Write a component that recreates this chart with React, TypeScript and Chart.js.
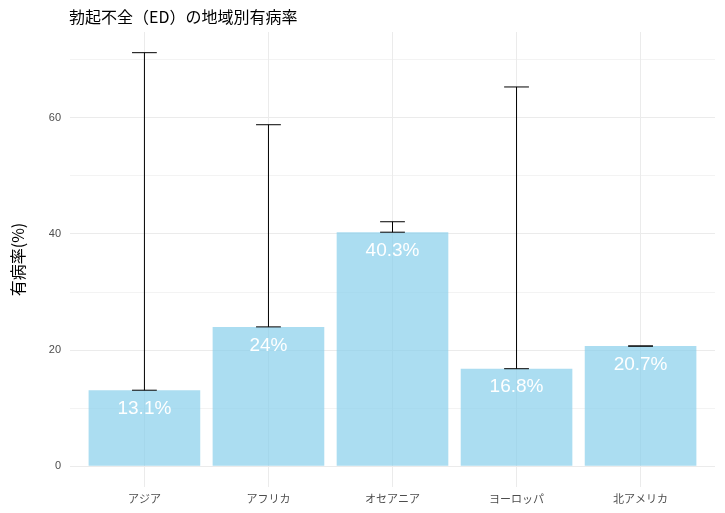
import React, { useEffect, useRef } from "react";
import { Chart, registerables } from "chart.js";

Chart.register(...registerables);

const titleText = "勃起不全（ED）の地域別有病率";
const yTitle = "有病率(%)";
const categories = ["アジア", "アフリカ", "オセアニア", "ヨーロッパ", "北アメリカ"];
const prevalence = [13.1, 24, 40.3, 16.8, 20.7];
const errLower = [13.1, 24, 40.3, 16.8, 20.7];
const errUpper = [71.2, 58.8, 42.1, 65.3, 20.7];
const yTicks = [0, 10, 20, 30, 40, 50, 60, 70];

const JP = "'Noto Sans CJK JP', 'Noto Sans', sans-serif";
const NUM = "'Liberation Sans', Arial, sans-serif";

export default function App() {
  const ref = useRef<HTMLCanvasElement | null>(null);

  useEffect(() => {
    if (!ref.current) return;
    const yMaxData = Math.max(...errUpper);
    const yMin = -0.05 * yMaxData;
    const yMax = yMaxData * 1.05;

    const titlePlugin = {
      id: "titlePlugin",
      afterDraw(chart: any) {
        const ctx = chart.ctx;
        ctx.save();
        ctx.fillStyle = "#000000";
        ctx.font = `16px ${JP}`;
        ctx.textAlign = "left";
        ctx.textBaseline = "middle";
        ctx.fillText(titleText, 69, 17);
        ctx.restore();
      },
    };

    const errorBarPlugin = {
      id: "errorBars",
      afterDatasetsDraw(chart: any) {
        const ctx = chart.ctx;
        const xs = chart.scales.x;
        const ys = chart.scales.y;
        const half = Math.abs(xs.getPixelForValue(0.1) - xs.getPixelForValue(0));
        ctx.save();
        ctx.strokeStyle = "#000000";
        ctx.lineWidth = 1;
        errLower.forEach((lo, i) => {
          const cx = xs.getPixelForValue(i);
          const yl = ys.getPixelForValue(lo);
          const yu = ys.getPixelForValue(errUpper[i]);
          ctx.beginPath();
          ctx.moveTo(cx, yl);
          ctx.lineTo(cx, yu);
          ctx.moveTo(cx - half, yu);
          ctx.lineTo(cx + half, yu);
          ctx.moveTo(cx - half, yl);
          ctx.lineTo(cx + half, yl);
          ctx.stroke();
        });
        ctx.restore();
      },
    };

    const labelPlugin = {
      id: "barLabels",
      afterDatasetsDraw(chart: any) {
        const ctx = chart.ctx;
        const meta = chart.getDatasetMeta(0);
        ctx.save();
        ctx.fillStyle = "#FFFFFF";
        ctx.font = `19px ${NUM}`;
        ctx.textAlign = "center";
        ctx.textBaseline = "middle";
        meta.data.forEach((bar: any, i: number) => {
          ctx.fillText(`${prevalence[i]}%`, bar.x, bar.y + 18.5);
        });
        ctx.restore();
      },
    };

    const chart = new Chart(ref.current, {
      type: "bar",
      data: {
        datasets: [
          {
            data: prevalence.map((v, i) => ({ x: i, y: v })),
            backgroundColor: "rgba(135,206,235,0.7)",
            borderWidth: 0,
            barPercentage: 0.9,
            categoryPercentage: 1,
          },
        ],
      },
      options: {
        animation: false,
        responsive: false,
        layout: { padding: { top: 32, right: 10, left: 0, bottom: 0 } },
        plugins: {
          legend: { display: false },
          tooltip: { enabled: false },
          title: { display: false },
        },
        scales: {
          x: {
            type: "linear",
            offset: false,
            min: -0.6,
            max: categories.length - 1 + 0.6,
            afterBuildTicks(scale: any) {
              scale.ticks = categories.map((_, i) => ({ value: i }));
            },
            afterFit(scale: any) {
              scale.height = 26;
            },
            ticks: {
              callback: (v: any) => categories[Math.round(Number(v))] ?? "",
              color: "#4D4D4D",
              font: { size: 11, family: JP },
              padding: 5,
              maxRotation: 0,
              autoSkip: false,
            },
            grid: { color: "#EBEBEB", drawTicks: false, lineWidth: 1, offset: false },
            border: { display: false },
          },
          y: {
            type: "linear",
            min: yMin,
            max: yMax,
            afterBuildTicks(scale: any) {
              scale.ticks = yTicks.map((v) => ({ value: v }));
            },
            afterFit(scale: any) {
              scale.width = 70;
            },
            ticks: {
              callback: (v: any) => (Number(v) % 20 === 0 ? String(v) : ""),
              color: "#4D4D4D",
              font: { size: 11, family: NUM },
              padding: 9,
            },
            grid: {
              color: "#EBEBEB",
              drawTicks: false,
              lineWidth: (c: any) => (c.tick && c.tick.value % 20 === 0 ? 1.1 : 0.6),
            },
            border: { display: false },
            title: {
              display: true,
              text: yTitle,
              color: "#000000",
              font: { size: 16, family: JP },
              padding: { top: 8, bottom: 0 },
            },
          },
        },
      },
      plugins: [titlePlugin, errorBarPlugin, labelPlugin],
    });

    return () => chart.destroy();
  }, []);

  return (
    <div style={{ position: "fixed", left: 0, top: 0, width: 725, height: 513, background: "#fff" }}>
      <canvas ref={ref} width={725} height={513} style={{ width: 725, height: 513 }} />
    </div>
  );
}
